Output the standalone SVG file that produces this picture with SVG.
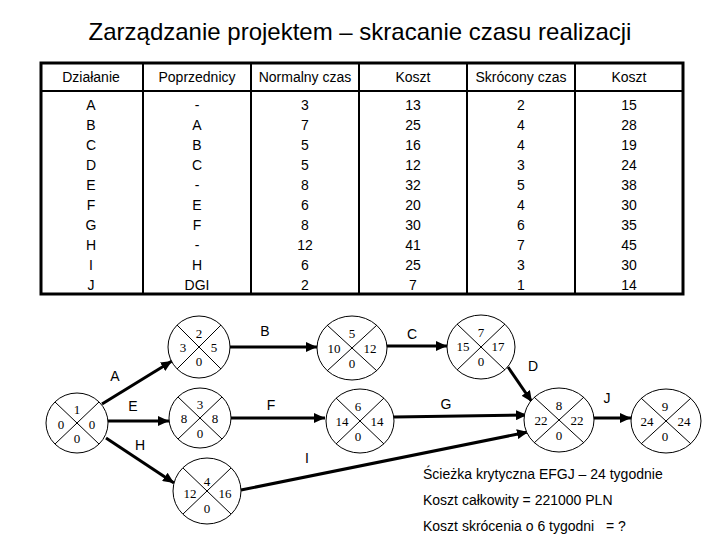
<svg xmlns="http://www.w3.org/2000/svg" width="720" height="540" viewBox="0 0 720 540">
<defs>
<style>
.t{font-family:"Liberation Sans",Arial,sans-serif;font-size:14px;fill:#000;text-anchor:middle}
.title{font-family:"Liberation Sans",Arial,sans-serif;font-size:24px;fill:#000;text-anchor:middle}
.lab{font-family:"Liberation Sans",Arial,sans-serif;font-size:14px;fill:#000;text-anchor:middle}
.txt{font-family:"Liberation Sans",Arial,sans-serif;font-size:14px;fill:#000}
.n{font-family:"Liberation Serif","Times New Roman",serif;font-size:13px;fill:#000;text-anchor:middle;dominant-baseline:central}
.c{fill:#fff;stroke:#000;stroke-width:1}
.x{stroke:#000;stroke-width:1}
.e{stroke:#000;stroke-width:3;fill:none;marker-end:url(#ah)}
.b{stroke:#000;fill:none}
</style>
<marker id="ah" markerUnits="userSpaceOnUse" markerWidth="12" markerHeight="10" refX="11" refY="5" orient="auto">
<path d="M0,0 L11,5 L0,10 z" fill="#000"/>
</marker>
</defs>
<rect width="720" height="540" fill="#fff"/>
<text class="title" x="360" y="40">Zarządzanie projektem – skracanie czasu realizacji</text>

<g id="table">
<rect class="b" x="41" y="63" width="642" height="231" stroke-width="3"/>
<line class="b" x1="41" y1="91" x2="683" y2="91" stroke-width="2"/>
<line class="b" x1="143" y1="63" x2="143" y2="294" stroke-width="2"/>
<line class="b" x1="251" y1="63" x2="251" y2="294" stroke-width="2"/>
<line class="b" x1="359" y1="63" x2="359" y2="294" stroke-width="2"/>
<line class="b" x1="467" y1="63" x2="467" y2="294" stroke-width="2"/>
<line class="b" x1="575" y1="63" x2="575" y2="294" stroke-width="2"/>
<g class="t">
<text x="91" y="82">Działanie</text><text x="197" y="82">Poprzednicy</text><text x="305" y="82">Normalny czas</text><text x="413" y="82">Koszt</text><text x="521" y="82">Skrócony czas</text><text x="629" y="82">Koszt</text>
<text x="91" y="110">A</text><text x="197" y="110">-</text><text x="305" y="110">3</text><text x="413" y="110">13</text><text x="521" y="110">2</text><text x="629" y="110">15</text>
<text x="91" y="130">B</text><text x="197" y="130">A</text><text x="305" y="130">7</text><text x="413" y="130">25</text><text x="521" y="130">4</text><text x="629" y="130">28</text>
<text x="91" y="150">C</text><text x="197" y="150">B</text><text x="305" y="150">5</text><text x="413" y="150">16</text><text x="521" y="150">4</text><text x="629" y="150">19</text>
<text x="91" y="170">D</text><text x="197" y="170">C</text><text x="305" y="170">5</text><text x="413" y="170">12</text><text x="521" y="170">3</text><text x="629" y="170">24</text>
<text x="91" y="190">E</text><text x="197" y="190">-</text><text x="305" y="190">8</text><text x="413" y="190">32</text><text x="521" y="190">5</text><text x="629" y="190">38</text>
<text x="91" y="210">F</text><text x="197" y="210">E</text><text x="305" y="210">6</text><text x="413" y="210">20</text><text x="521" y="210">4</text><text x="629" y="210">30</text>
<text x="91" y="230">G</text><text x="197" y="230">F</text><text x="305" y="230">8</text><text x="413" y="230">30</text><text x="521" y="230">6</text><text x="629" y="230">35</text>
<text x="91" y="250">H</text><text x="197" y="250">-</text><text x="305" y="250">12</text><text x="413" y="250">41</text><text x="521" y="250">7</text><text x="629" y="250">45</text>
<text x="91" y="270">I</text><text x="197" y="270">H</text><text x="305" y="270">6</text><text x="413" y="270">25</text><text x="521" y="270">3</text><text x="629" y="270">30</text>
<text x="91" y="290">J</text><text x="197" y="290">DGI</text><text x="305" y="290">2</text><text x="413" y="290">7</text><text x="521" y="290">1</text><text x="629" y="290">14</text>
</g>
</g>

<g id="connectors">
<line class="e" x1="102" y1="404" x2="172" y2="361"/>
<line class="e" x1="108" y1="421" x2="169" y2="421"/>
<line class="e" x1="106" y1="438" x2="174" y2="483"/>
<line class="e" x1="230" y1="347" x2="317" y2="347"/>
<line class="e" x1="387" y1="346" x2="447" y2="346"/>
<line class="e" x1="231" y1="418" x2="325" y2="418"/>
<line class="e" x1="394" y1="417" x2="527" y2="415"/>
<line class="e" x1="241" y1="490" x2="528" y2="432"/>
<line class="e" x1="508" y1="367" x2="532" y2="402"/>
<line class="e" x1="594" y1="418" x2="631" y2="418"/>
<g class="lab">
<text x="115" y="381">A</text><text x="133" y="411">E</text><text x="140" y="450">H</text>
<text x="265" y="336">B</text><text x="412" y="339">C</text><text x="271" y="410">F</text>
<text x="446" y="409">G</text><text x="307" y="463">I</text><text x="533" y="371">D</text>
<text x="607" y="403">J</text>
</g>
</g>

<g id="node1">
<ellipse class="c" cx="77" cy="423" rx="31" ry="30"/>
<line class="x" x1="55" y1="402" x2="99" y2="444"/><line class="x" x1="99" y1="402" x2="55" y2="444"/>
<text class="n" x="77" y="409">1</text><text class="n" x="61" y="424">0</text><text class="n" x="92" y="424">0</text><text class="n" x="77" y="438">0</text>
</g>
<g id="node2">
<ellipse class="c" cx="199" cy="347" rx="31" ry="31"/>
<line class="x" x1="177" y1="325" x2="221" y2="369"/><line class="x" x1="221" y1="325" x2="177" y2="369"/>
<text class="n" x="199" y="333">2</text><text class="n" x="183" y="347">3</text><text class="n" x="214" y="347">5</text><text class="n" x="199" y="361">0</text>
</g>
<g id="node3">
<ellipse class="c" cx="200" cy="418" rx="31" ry="30"/>
<line class="x" x1="178" y1="397" x2="222" y2="439"/><line class="x" x1="222" y1="397" x2="178" y2="439"/>
<text class="n" x="200" y="404">3</text><text class="n" x="184" y="418">8</text><text class="n" x="215" y="418">8</text><text class="n" x="200" y="433">0</text>
</g>
<g id="node4">
<ellipse class="c" cx="207" cy="491" rx="34" ry="33"/>
<line class="x" x1="183" y1="468" x2="231" y2="514"/><line class="x" x1="231" y1="468" x2="183" y2="514"/>
<text class="n" x="207" y="481">4</text><text class="n" x="190" y="493">12</text><text class="n" x="225" y="493">16</text><text class="n" x="207" y="508">0</text>
</g>
<g id="node5">
<ellipse class="c" cx="352" cy="348" rx="35" ry="32"/>
<line class="x" x1="327" y1="325" x2="377" y2="371"/><line class="x" x1="377" y1="325" x2="327" y2="371"/>
<text class="n" x="352" y="333">5</text><text class="n" x="334" y="348">10</text><text class="n" x="370" y="348">12</text><text class="n" x="352" y="363">0</text>
</g>
<g id="node6">
<ellipse class="c" cx="360" cy="421" rx="34" ry="32"/>
<line class="x" x1="336" y1="398" x2="384" y2="444"/><line class="x" x1="384" y1="398" x2="336" y2="444"/>
<text class="n" x="358" y="406">6</text><text class="n" x="342" y="421">14</text><text class="n" x="377" y="421">14</text><text class="n" x="358" y="436">0</text>
</g>
<g id="node7">
<ellipse class="c" cx="481" cy="347" rx="34" ry="32"/>
<line class="x" x1="457" y1="324" x2="505" y2="370"/><line class="x" x1="505" y1="324" x2="457" y2="370"/>
<text class="n" x="481" y="332">7</text><text class="n" x="463" y="346">15</text><text class="n" x="498" y="346">17</text><text class="n" x="481" y="361">0</text>
</g>
<g id="node8">
<ellipse class="c" cx="559" cy="420" rx="35" ry="32"/>
<line class="x" x1="534" y1="397" x2="584" y2="443"/><line class="x" x1="584" y1="397" x2="534" y2="443"/>
<text class="n" x="559" y="405">8</text><text class="n" x="541" y="420">22</text><text class="n" x="577" y="420">22</text><text class="n" x="559" y="435">0</text>
</g>
<g id="node9">
<ellipse class="c" cx="666" cy="421" rx="35" ry="32"/>
<line class="x" x1="641" y1="398" x2="691" y2="444"/><line class="x" x1="691" y1="398" x2="641" y2="444"/>
<text class="n" x="665" y="406">9</text><text class="n" x="647" y="421">24</text><text class="n" x="684" y="421">24</text><text class="n" x="665" y="436">0</text>
</g>

<g id="notes">
<text class="txt" x="423" y="479">Ścieżka krytyczna EFGJ – 24 tygodnie</text>
<text class="txt" x="423" y="505">Koszt całkowity = 221000 PLN</text>
<text class="txt" x="423" y="531" xml:space="preserve">Koszt skrócenia o 6 tygodni   = ?</text>
</g>
</svg>
